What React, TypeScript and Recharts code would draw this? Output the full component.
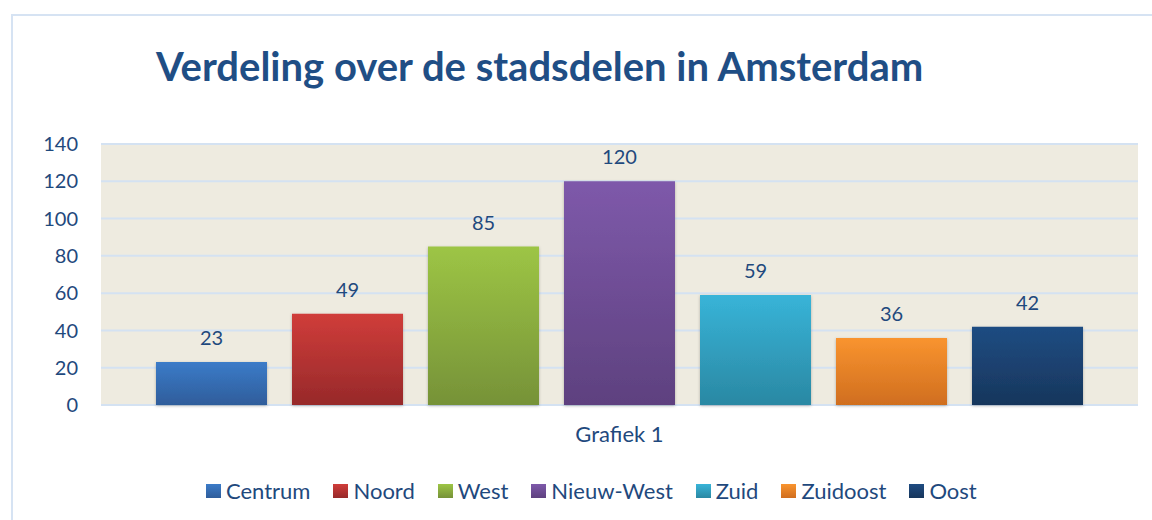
// Verdeling over de stadsdelen in Amsterdam: one category, seven series
import { BarChart, Bar, XAxis, YAxis, CartesianGrid, Legend, LabelList } from 'recharts';

const categories = ['Grafiek 1'];
const districts = ['Centrum', 'Noord', 'West', 'Nieuw-West', 'Zuid', 'Zuidoost', 'Oost'];
const counts = [23, 49, 85, 120, 59, 36, 42];
const yTicks = [0, 20, 40, 60, 80, 100, 120, 140];

const colors: Array<[string, string]> = [
  ['#3b7bc8', '#2f5d9b'],
  ['#d03d3a', '#97292a'],
  ['#9dc545', '#769238'],
  ['#7e59aa', '#5e417f'],
  ['#38b4d8', '#2a88a3'],
  ['#f9942f', '#d06e1f'],
  ['#1f4c82', '#17365c'],
];

const data = categories.map((name) => {
  const row: Record<string, string | number> = { name };
  districts.forEach((d, i) => (row[d] = counts[i]));
  return row;
});

const FONT = 'Lato, "Open Sans", sans-serif';
const TEXT = '#1f497d';

function LegendRow() {
  return (
    <div
      style={{
        height: 65,
        boxSizing: 'border-box',
        paddingTop: 24,
        paddingLeft: 206,
        display: 'flex',
        alignItems: 'flex-start',
        gap: 23,
        fontFamily: FONT,
        fontSize: 22,
        lineHeight: '24px',
        color: TEXT,
      }}
    >
      {districts.map((d, i) => (
        <div key={d} style={{ display: 'flex', alignItems: 'center' }}>
          <span
            style={{
              width: 15,
              height: 14,
              marginRight: 5,
              background: `linear-gradient(${colors[i][0]}, ${colors[i][1]})`,
            }}
          />
          {d}
        </div>
      ))}
    </div>
  );
}

export default function App() {
  return (
    <div style={{ position: 'absolute', left: 0, top: 0, width: 1152, height: 520, background: '#fff', overflow: 'hidden' }}>
      <div style={{ position: 'absolute', left: 11, top: 14, width: 1160, height: 520, border: '2px solid #d6e3f3' }} />
      <div
        style={{
          position: 'absolute',
          left: 156,
          top: 42,
          fontFamily: FONT,
          fontWeight: 700,
          fontSize: 40,
          color: '#1f4e85',
          whiteSpace: 'nowrap',
        }}
      >
        Verdeling over de stadsdelen in Amsterdam
      </div>
      <BarChart
        width={1152}
        height={520}
        data={data}
        margin={{ top: 144, right: 14, left: 0, bottom: 0 }}
        barGap={25}
        style={{ position: 'absolute', left: 0, top: 0 }}
      >
        <defs>
          {colors.map((c, i) => (
            <linearGradient key={i} id={`g${i}`} x1="0" y1="0" x2="0" y2="1">
              <stop offset="0%" stopColor={c[0]} />
              <stop offset="100%" stopColor={c[1]} />
            </linearGradient>
          ))}
          <filter id="shadow" x="-10%" y="-10%" width="120%" height="120%">
            <feDropShadow dx="0" dy="1" stdDeviation="1.5" floodColor="#000" floodOpacity="0.25" />
          </filter>
        </defs>
        <CartesianGrid vertical={false} stroke="#d4e2f2" strokeWidth={2} fill="#eeebe0" />
        <XAxis
          dataKey="name"
          axisLine={false}
          tickLine={false}
          tickSize={0}
          tickMargin={21}
          height={50}
          tick={{ fontFamily: FONT, fontSize: 22, fill: TEXT }}
        />
        <YAxis
          domain={[0, 140]}
          ticks={yTicks}
          axisLine={false}
          tickLine={false}
          tickSize={0}
          tickMargin={23}
          width={101}
          interval={0}
          tick={{ fontFamily: FONT, fontSize: 20, fill: TEXT }}
        />
        <Legend verticalAlign="bottom" align="left" content={() => <LegendRow />} />
        {districts.map((d, i) => (
          <Bar key={d} dataKey={d} barSize={111} fill={`url(#g${i})`} filter="url(#shadow)" isAnimationActive={false}>
            <LabelList dataKey={d} position="top" offset={17} style={{ fontFamily: FONT, fontSize: 20, fill: TEXT }} />
          </Bar>
        ))}
      </BarChart>
    </div>
  );
}
